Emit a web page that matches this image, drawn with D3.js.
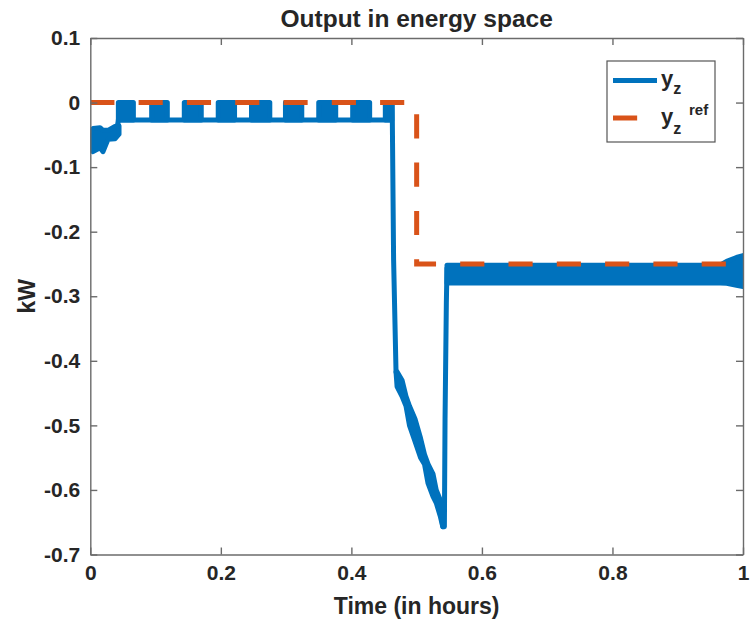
<!DOCTYPE html>
<html>
<head>
<meta charset="utf-8">
<script src="https://cdn.jsdelivr.net/npm/d3@7"></script>
<style>
  body { margin: 0; background: #fff; }
  text { font-family: "Liberation Sans", Arial, Helvetica, sans-serif; font-weight: bold; fill: #262626; }
</style>
</head>
<body>
<svg id="chart" width="751" height="628"></svg>
<script>
// Axis ticks
const xTicks = [0, 0.2, 0.4, 0.6, 0.8, 1];
const yTicks = [0.1, 0, -0.1, -0.2, -0.3, -0.4, -0.5, -0.6, -0.7];

// Reference output y_z^ref (kW) against time (hours)
const refTime  = [0, 0.5, 0.5, 1];
const refValue = [0, 0, -0.25, -0.25];

// y_z: start-up transient envelope
const startTime = [0, 0.0041, 0.0149, 0.0195, 0.0271, 0.0378, 0.044];
const startHigh = [-0.048, -0.040, -0.039, -0.043, -0.043, -0.037, -0.036];
const startLow  = [-0.073, -0.076, -0.070, -0.076, -0.057, -0.056, -0.049];

// y_z: main trace (flat level, drop, descent, recovery)
const traceTime  = [0.041, 0.043, 0.4615, 0.4625, 0.4647, 0.4684, 0.4746, 0.4837, 0.4898, 0.499, 0.5083, 0.5175, 0.5267, 0.536, 0.540, 0.5425, 0.5435, 0.5455, 0.5465];
const traceValue = [-0.040, -0.027, -0.027, 0, -0.244, -0.417, -0.440, -0.465, -0.490, -0.515, -0.540, -0.575, -0.595, -0.625, -0.657, -0.657, -0.490, -0.310, -0.255];

// y_z: switching bursts between the two levels
const burstStart = [0.043, 0.094, 0.144, 0.196, 0.247, 0.299, 0.350, 0.402, 0.452];
const burstEnd   = [0.066, 0.118, 0.170, 0.221, 0.275, 0.324, 0.376, 0.428, 0.462];
const burstHigh = 0;
const burstLow  = -0.027;

// y_z: envelope during the descent
const diveTime = [0.4684, 0.4700, 0.4776, 0.4837, 0.4890, 0.4975, 0.5060, 0.5120, 0.5175, 0.5250, 0.5300, 0.5360, 0.5400];
const diveHigh = [-0.417, -0.417, -0.430, -0.455, -0.470, -0.490, -0.520, -0.545, -0.560, -0.575, -0.600, -0.615, -0.630];
const diveLow  = [-0.417, -0.440, -0.455, -0.470, -0.500, -0.525, -0.550, -0.560, -0.590, -0.610, -0.620, -0.640, -0.657];

// y_z: envelope after recovery
const tailTime = [0.5465, 0.965, 0.975, 0.990, 1.0];
const tailHigh = [-0.252, -0.252, -0.246, -0.240, -0.237];
const tailLow  = [-0.2795, -0.2795, -0.280, -0.283, -0.285];

const BLUE = "#0072BD";
const ORANGE = "#D95319";

const svg = d3.select("#chart");
const m = { left: 90.3, right: 743, top: 38, bottom: 554.5 };

const x = d3.scaleLinear().domain([0, 1]).range([m.left, m.right]);
const y = d3.scaleLinear().domain([-0.7, 0.1]).range([m.bottom, m.top]);

svg.append("defs").append("clipPath").attr("id", "plot-clip")
  .append("rect")
  .attr("x", m.left).attr("y", m.top)
  .attr("width", m.right - m.left).attr("height", m.bottom - m.top);

const plot = svg.append("g").attr("clip-path", "url(#plot-clip)");

const band = d3.area()
  .x(d => x(d.t)).y0(d => y(d.lo)).y1(d => y(d.hi));
const line = d3.line().x(d => x(d.t)).y(d => y(d.v));

function drawBand(rows) {
  plot.append("path")
    .datum(rows)
    .attr("d", band)
    .attr("fill", BLUE)
    .attr("stroke", BLUE)
    .attr("stroke-width", 5)
    .attr("stroke-linejoin", "round");
}

// start transient
drawBand(startTime.map((t, i) => ({ t, hi: startHigh[i], lo: startLow[i] })));

// main trace
plot.append("path")
  .datum(traceTime.map((t, i) => ({ t, v: traceValue[i] })))
  .attr("d", line)
  .attr("fill", "none")
  .attr("stroke", BLUE)
  .attr("stroke-width", 5)
  .attr("stroke-linejoin", "round");

// switching bursts
burstStart.forEach((s, i) => {
  drawBand([{ t: s, hi: burstHigh, lo: burstLow }, { t: burstEnd[i], hi: burstHigh, lo: burstLow }]);
});

// descent and tail envelopes
drawBand(diveTime.map((t, i) => ({ t, hi: diveHigh[i], lo: diveLow[i] })));
drawBand(tailTime.map((t, i) => ({ t, hi: tailHigh[i], lo: tailLow[i] })));

// reference
plot.append("path")
  .datum(refTime.map((t, i) => ({ t, v: refValue[i] })))
  .attr("d", line)
  .attr("fill", "none")
  .attr("stroke", ORANGE)
  .attr("stroke-width", 5)
  .attr("stroke-dasharray", "24.15,24.15");

// axes
const axisColor = "#6b6b6b";
const fmt = d => String(d);
function styleAxis(g) {
  g.selectAll(".domain").attr("stroke", axisColor).attr("stroke-width", 1.4);
  g.selectAll(".tick line").attr("stroke", axisColor).attr("stroke-width", 1.4);
  g.selectAll(".tick text").attr("fill", "#262626").attr("font-family", null).attr("font-size", null).style("font-size", "21px");
}

svg.append("g").attr("transform", `translate(0,${m.bottom})`)
  .call(d3.axisBottom(x).tickValues(xTicks).tickFormat(fmt).tickSizeInner(-7).tickSizeOuter(0).tickPadding(11))
  .call(styleAxis);
svg.append("g").attr("transform", `translate(0,${m.top})`)
  .call(d3.axisTop(x).tickValues(xTicks).tickFormat("").tickSizeInner(-7).tickSizeOuter(0))
  .call(styleAxis);
svg.append("g").attr("transform", `translate(${m.left},0)`)
  .call(d3.axisLeft(y).tickValues(yTicks).tickFormat(fmt).tickSizeInner(-7).tickSizeOuter(0).tickPadding(10))
  .call(styleAxis);
svg.append("g").attr("transform", `translate(${m.right},0)`)
  .call(d3.axisRight(y).tickValues(yTicks).tickFormat("").tickSizeInner(-7).tickSizeOuter(0))
  .call(styleAxis);

// title and axis labels
svg.append("text")
  .attr("x", (m.left + m.right) / 2).attr("y", 27)
  .attr("text-anchor", "middle")
  .style("font-size", "24.5px")
  .text("Output in energy space");

svg.append("text")
  .attr("x", (m.left + m.right) / 2).attr("y", 614)
  .attr("text-anchor", "middle")
  .style("font-size", "23px")
  .text("Time (in hours)");

svg.append("text")
  .attr("transform", `translate(35,${(m.top + m.bottom) / 2}) rotate(-90)`)
  .attr("text-anchor", "middle")
  .style("font-size", "23px")
  .text("kW");

// legend
const lg = svg.append("g");
lg.append("rect")
  .attr("x", 607).attr("y", 61).attr("width", 108).attr("height", 81)
  .attr("fill", "#fff").attr("stroke", "#555").attr("stroke-width", 1.2);
lg.append("line")
  .attr("x1", 613).attr("x2", 657).attr("y1", 80.5).attr("y2", 80.5)
  .attr("stroke", BLUE).attr("stroke-width", 5);
lg.append("line")
  .attr("x1", 613).attr("x2", 657).attr("y1", 118).attr("y2", 118)
  .attr("stroke", ORANGE).attr("stroke-width", 5)
  .attr("stroke-dasharray", "24.15,24.15");

const t1 = lg.append("text").attr("x", 661).attr("y", 86).style("font-size", "22px");
t1.append("tspan").text("y");
t1.append("tspan").attr("dy", 8).style("font-size", "16px").text("z");

const t2 = lg.append("text").attr("x", 661).attr("y", 124).style("font-size", "22px");
t2.append("tspan").text("y");
t2.append("tspan").attr("dy", 10).style("font-size", "16px").text("z");
lg.append("text").attr("x", 689).attr("y", 115).style("font-size", "15px").text("ref");
</script>
</body>
</html>
